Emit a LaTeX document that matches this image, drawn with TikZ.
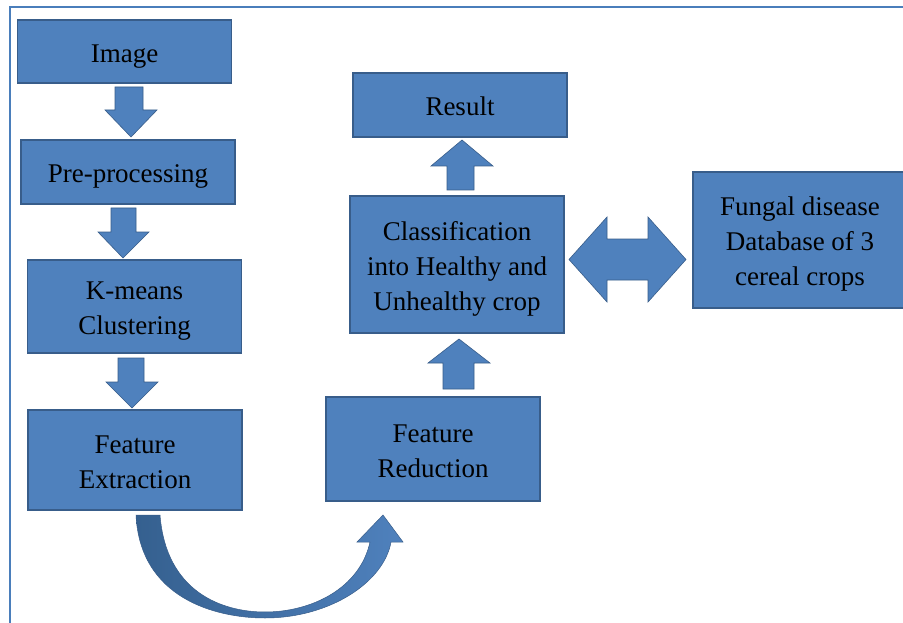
\documentclass[tikz,border=0pt]{standalone}
\usepackage{fontspec}
\setmainfont{Liberation Serif}
\usepackage{tikz}
\definecolor{boxblue}{HTML}{4F81BD}
\definecolor{boxline}{HTML}{385D8A}
\definecolor{framecol}{HTML}{4A7EBB}
\definecolor{curvedark}{HTML}{35608F}
\tikzset{
  block/.style={draw=boxline, line width=1.2pt, fill=boxblue, align=center,
    minimum width=214pt, inner sep=0pt, font=\fontsize{27}{35}\selectfont,
    text height=27pt, text depth=5.8pt},
  nlines/.style={text height={(#1-1)*35pt+27pt}},
  barrow/.style={draw=boxline, line width=0.6pt, fill=boxblue, line join=miter}
}

\begin{document}
\begin{tikzpicture}[x=1pt, y=-1pt]
            \clip (0,0) rectangle (903,623);
            \fill[white] (0,0) rectangle (903,623);
            \draw[framecol, line width=2pt] (10,623) -- (10,7) -- (903,7);
            % left column
            \node[block, minimum height=63pt] (img) at (124.5,51.5) {Image};
            \node[block, minimum height=64pt] (pre) at (128,172) {Pre-processing};
            \node[block, nlines=2, minimum height=93pt] (kmc) at (134.5,306.5) {K-means\\Clustering};
            \node[block, nlines=2, minimum height=100pt] (fex) at (135,460) {Feature\\Extraction};
            % right column
            \node[block, nlines=2, minimum height=104pt] (fred) at (433,449) {Feature\\Reduction};
            \node[block, nlines=3, minimum height=137pt] (cls) at (457,264.5) {Classification\\into Healthy and\\Unhealthy crop};
            \node[block, minimum height=64pt] (res) at (460,105) {Result};
            \node[block, nlines=3, minimum height=136pt] (db) at (800,240) {Fungal disease\\Database of 3\\cereal crops};
            % block arrows
            \draw[barrow] (115,87) -- (143,87) -- (143,110) -- (157,110) -- (131,137) -- (105,110) -- (115,110) -- cycle;
            \draw[barrow] (111,208) -- (136,208) -- (136,232) -- (149,232) -- (123,258) -- (98,232) -- (111,232) -- cycle;
            \draw[barrow] (118,358) -- (144,358) -- (144,382) -- (158,382) -- (132,408) -- (106,382) -- (118,382) -- cycle;
            \draw[barrow] (443,389) -- (474,389) -- (474,363) -- (490,363) -- (459,339) -- (428,363) -- (443,363) -- cycle;
            \draw[barrow] (447,190) -- (474,190) -- (474,166) -- (493,166) -- (462,140) -- (431,166) -- (447,166) -- cycle;
            \draw[barrow] (569,259.5) -- (607,217) -- (607,239) -- (648,239) -- (648,217) -- (686,259.5)
              -- (648,302) -- (648,280) -- (607,280) -- (607,302) -- cycle;
            % curved arrow
            \shade[left color=curvedark, right color=boxblue, draw=boxline, line width=0.5pt]
              (136,515) .. controls (140,598) and (215,618) .. (265,618)
              .. controls (330,618) and (384,582) .. (391,542) -- (403,542) -- (383,515)
              -- (357,542) -- (370,542) .. controls (360,588) and (312,612) .. (265,612)
              .. controls (222,612) and (166,592) .. (160,515) -- cycle;
        \end{tikzpicture}
\end{document}
